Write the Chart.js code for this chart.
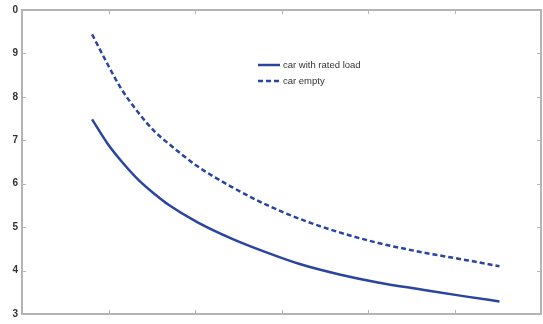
<!DOCTYPE html>
<html>
<head>
<meta charset="utf-8">
<script src="https://cdn.jsdelivr.net/npm/chart.js@4.4.1/dist/chart.umd.min.js"></script>
<style>
  html, body { margin: 0; padding: 0; background: #fff; }
  #wrap { width: 543px; height: 324px; }
</style>
</head>
<body>
<div id="wrap"><canvas id="speedChart"></canvas></div>
<script>
  // values (x in tick units 0..6)
  const xValues = [0.81, 0.99, 1.14, 1.34, 1.54, 1.69, 2.03, 2.43, 2.81, 3.21, 3.67, 4.13, 4.63, 5.14, 5.52];
  const ratedLoad = [7.48, 6.92, 6.54, 6.10, 5.75, 5.52, 5.11, 4.73, 4.43, 4.15, 3.91, 3.72, 3.56, 3.40, 3.29];
  const carEmpty = [9.44, 8.75, 8.21, 7.65, 7.19, 6.93, 6.40, 5.92, 5.53, 5.19, 4.88, 4.63, 4.42, 4.24, 4.10];
  const seriesNames = ['car with rated load', 'car empty'];
  const yTickLabels = {3: '3', 4: '4', 5: '5', 6: '6', 7: '7', 8: '8', 9: '9', 10: '0'};

  const blue = 'rgb(42,68,162)';
  const axisGray = '#b4b4b4';

  const toPoints = (ys) => ys.map((v, i) => ({x: xValues[i], y: v}));

  // matlab style box with inward ticks
  const boxTicks = {
    id: 'boxTicks',
    afterDatasetsDraw(chart) {
      const {ctx, chartArea: a, scales: {x, y}} = chart;
      ctx.save();
      ctx.strokeStyle = axisGray;
      ctx.lineWidth = 1;
      x.ticks.forEach(t => {
        const px = Math.round(x.getPixelForValue(t.value)) + 0.5;
        ctx.beginPath();
        ctx.moveTo(px, a.bottom); ctx.lineTo(px, a.bottom - 4);
        ctx.moveTo(px, a.top); ctx.lineTo(px, a.top + 4);
        ctx.stroke();
      });
      y.ticks.forEach(t => {
        const py = Math.round(y.getPixelForValue(t.value)) + 0.5;
        ctx.beginPath();
        ctx.moveTo(a.left, py); ctx.lineTo(a.left + 4, py);
        ctx.moveTo(a.right, py); ctx.lineTo(a.right - 4, py);
        ctx.stroke();
      });
      ctx.lineWidth = 2;
      ctx.strokeRect(a.left, a.top, a.right - a.left, a.bottom - a.top);
      ctx.restore();
    }
  };

  // legend drawn inside the plot
  const innerLegend = {
    id: 'innerLegend',
    afterDraw(chart) {
      const ctx = chart.ctx;
      ctx.save();
      ctx.font = '9.5px Arial';
      ctx.textBaseline = 'middle';
      chart.data.datasets.forEach((ds, i) => {
        const yy = 65 + i * 16;
        ctx.strokeStyle = ds.borderColor;
        ctx.lineWidth = 2.5;
        ctx.setLineDash(ds.borderDash || []);
        ctx.beginPath();
        ctx.moveTo(258, yy); ctx.lineTo(280, yy);
        ctx.stroke();
        ctx.setLineDash([]);
        ctx.fillStyle = '#333';
        ctx.fillText(ds.label, 283, yy);
      });
      ctx.restore();
    }
  };

  const ctx = document.getElementById('speedChart');

  new Chart(ctx, {
    type: 'line',
    data: {
      datasets: [{
        label: seriesNames[0],
        data: toPoints(ratedLoad),
        borderColor: blue,
        borderWidth: 2.5,
        pointRadius: 0,
        cubicInterpolationMode: 'monotone'
      }, {
        label: seriesNames[1],
        data: toPoints(carEmpty),
        borderColor: blue,
        borderWidth: 2.5,
        borderDash: [5, 3],
        pointRadius: 0,
        cubicInterpolationMode: 'monotone'
      }]
    },
    options: {
      responsive: true,
      maintainAspectRatio: false,
      animation: false,
      layout: { padding: { top: 5, right: 2, left: 0, bottom: 0 } },
      plugins: {
        legend: { display: false },
        tooltip: { enabled: false }
      },
      scales: {
        x: {
          type: 'linear',
          min: 0,
          max: 6,
          ticks: { display: false, stepSize: 1 },
          grid: { display: false, drawTicks: false },
          border: { display: false },
          afterFit(scale) { scale.height = 8; }
        },
        y: {
          min: 3,
          max: 10,
          ticks: {
            stepSize: 1,
            padding: 4,
            color: '#333',
            font: { family: "'Liberation Sans Narrow', Arial", size: 10, weight: 'bold' },
            callback: (v) => yTickLabels[v]
          },
          grid: { display: false, drawTicks: false },
          border: { display: false },
          afterFit(scale) { scale.width = 22; }
        }
      }
    },
    plugins: [boxTicks, innerLegend]
  });
</script>
</body>
</html>
